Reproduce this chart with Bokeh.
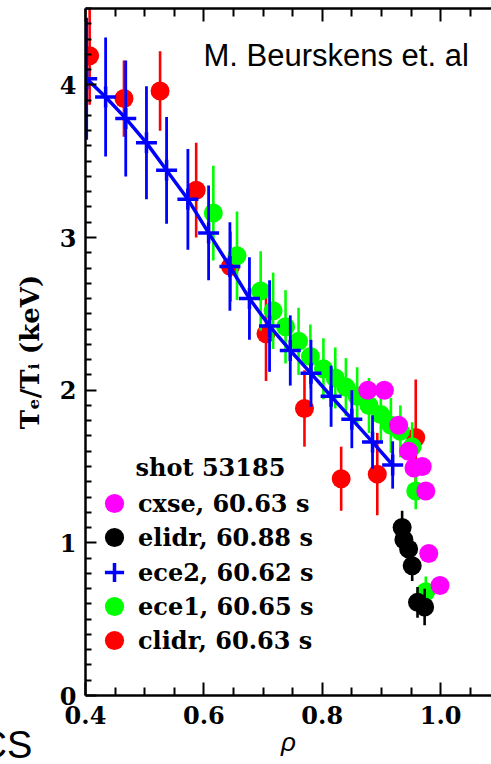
import numpy as np
from bokeh.plotting import figure
from bokeh.models import (ColumnDataSource, FixedTicker, LinearAxis, Legend,
                          LegendItem, Label, Title)
from bokeh.embed import file_html
from bokeh.resources import INLINE

# ---------------- data ----------------
# clidr (red)
clidr_rho = [0.407, 0.465, 0.526, 0.587, 0.645, 0.705, 0.770, 0.832, 0.893, 0.958]
clidr_te = [4.19, 3.91, 3.96, 3.31, 2.81, 2.37, 1.88, 1.42, 1.45, 1.69]
clidr_err = [0.32, 0.25, 0.26, 0.31, 0.23, 0.31, 0.25, 0.21, 0.27, 0.38]

# ece1 (green)
ece1_rho = [0.616, 0.656, 0.696, 0.717, 0.738, 0.760, 0.780, 0.802, 0.822,
            0.840, 0.859, 0.879, 0.899, 0.916, 0.932, 0.952, 0.958, 0.975]
ece1_te = [3.16, 2.88, 2.65, 2.52, 2.415, 2.32, 2.22, 2.14, 2.08,
           2.02, 1.96, 1.90, 1.84, 1.77, 1.73, 1.63, 1.34, 0.68]
ece1_err = [0.31, 0.29, 0.26, 0.25, 0.24, 0.22, 0.21, 0.20, 0.20,
            0.19, 0.19, 0.18, 0.18, 0.18, 0.17, 0.16, 0.12, 0.10]

# ece2 (blue)
ece2_rho = [0.402, 0.434, 0.468, 0.503, 0.537, 0.573, 0.608, 0.644,
            0.677, 0.711, 0.746, 0.781, 0.815, 0.850, 0.885, 0.919]
ece2_te = [4.04, 3.92, 3.78, 3.62, 3.44, 3.25, 3.03, 2.81,
           2.60, 2.42, 2.26, 2.11, 1.96, 1.81, 1.66, 1.51]
ece2_err = [0.40, 0.39, 0.38, 0.37, 0.35, 0.33, 0.31, 0.29,
            0.27, 0.30, 0.23, 0.22, 0.20, 0.19, 0.175, 0.155]

# elidr (black)
elidr_rho = [0.935, 0.938, 0.946, 0.952, 0.961, 0.973]
elidr_te = [1.10, 1.02, 0.96, 0.85, 0.61, 0.58]
elidr_err = [0.11, 0.10, 0.10, 0.10, 0.10, 0.12]

# cxse (magenta)
cxse_rho = [0.877, 0.905, 0.929, 0.946, 0.955, 0.969, 0.975, 0.980, 0.999]
cxse_te = [2.00, 2.00, 1.77, 1.60, 1.49, 1.50, 1.34, 0.93, 0.72]

legend_title = "shot 53185"
legend_order = ["cxse", "elidr", "ece2", "ece1", "clidr"]
legend_labels = {
    "cxse": "cxse, 60.63 s",
    "elidr": "elidr, 60.88 s",
    "ece2": "ece2, 60.62 s",
    "ece1": "ece1, 60.65 s",
    "clidr": "clidr, 60.63 s",
}
credit_text = "M. Beurskens et. al"
corner_text = "CS"

x_ticks = [0.4, 0.6, 0.8, 1.0]
x_tick_labels = ["0.4", "0.6", "0.8", "1.0"]
x_minor = [0.45, 0.5, 0.55, 0.65, 0.7, 0.75, 0.85, 0.9, 0.95, 1.05]
y_ticks = [0, 1, 2, 3, 4]
y_tick_labels = ["0", "1", "2", "3", "4"]
y_minor = [round(0.1 * i, 1) for i in range(46) if i % 10 != 0]

SERIF = "DejaVu Serif"
SANS = "Liberation Sans"

# ---------------- figure ----------------
p = figure(width=491, height=764, x_range=(0.4, 1.086), y_range=(0, 4.5),
           output_backend="svg", toolbar_location=None)
p.min_border_left = 85
p.min_border_right = 0
p.min_border_top = 8
p.min_border_bottom = 69
p.outline_line_color = None
p.background_fill_color = "white"
p.border_fill_color = "white"
p.xgrid.visible = False
p.ygrid.visible = False


def err_source(x, y, e):
    x = np.asarray(x, float)
    y = np.asarray(y, float)
    e = np.asarray(e, float)
    return ColumnDataSource(dict(x=x, y=y, lo=y - e, hi=y + e))


RED, GREEN, BLUE, BLACK, MAG = "#ff0000", "#00ff00", "#0000ff", "#000000", "#ff00ff"
MS = 19

renderers = {}

# clidr
s = err_source(clidr_rho, clidr_te, clidr_err)
p.segment(x0="x", y0="lo", x1="x", y1="hi", source=s, line_color=RED, line_width=2.6)
renderers["clidr"] = p.scatter("x", "y", source=s, marker="circle", size=MS,
                               fill_color=RED, line_color=None)

# ece1
s = err_source(ece1_rho, ece1_te, ece1_err)
p.segment(x0="x", y0="lo", x1="x", y1="hi", source=s, line_color=GREEN, line_width=2.6)
renderers["ece1"] = p.scatter("x", "y", source=s, marker="circle", size=MS,
                              fill_color=GREEN, line_color=None)

# ece2
s = err_source(ece2_rho, ece2_te, ece2_err)
p.segment(x0="x", y0="lo", x1="x", y1="hi", source=s, line_color=BLUE, line_width=2.8)
p.line("x", "y", source=s, line_color=BLUE, line_width=3.5)
renderers["ece2"] = p.scatter("x", "y", source=s, marker="cross", size=21,
                              line_color=BLUE, line_width=3.5)

# elidr
s = err_source(elidr_rho, elidr_te, elidr_err)
p.segment(x0="x", y0="lo", x1="x", y1="hi", source=s, line_color=BLACK, line_width=2.6)
renderers["elidr"] = p.scatter("x", "y", source=s, marker="circle", size=MS,
                               fill_color=BLACK, line_color=None)

# cxse
s = ColumnDataSource(dict(x=cxse_rho, y=cxse_te))
renderers["cxse"] = p.scatter("x", "y", source=s, marker="circle", size=MS,
                              fill_color=MAG, line_color=None)

# ---------------- axes ----------------
xt = FixedTicker(ticks=x_ticks, minor_ticks=x_minor)
yt = FixedTicker(ticks=y_ticks, minor_ticks=y_minor)

xa = p.xaxis[0]
xa.ticker = xt
xa.major_label_overrides = dict(zip(x_ticks, x_tick_labels))
ya = p.yaxis[0]
ya.ticker = yt
ya.major_label_overrides = dict(zip(y_ticks, y_tick_labels))

top = LinearAxis(ticker=FixedTicker(ticks=x_ticks, minor_ticks=x_minor))
top.major_label_overrides = {t: "" for t in x_ticks}
top.major_label_text_font_size = "1px"
top.major_label_standoff = 0
p.add_layout(top, "above")

for ax in (xa, top):
    ax.major_tick_in = 13
    ax.major_tick_out = 0
    ax.minor_tick_in = 8
    ax.minor_tick_out = 0
ya.major_tick_in = 11
ya.major_tick_out = 0
ya.minor_tick_in = 6
ya.minor_tick_out = 0

for ax in (xa, ya, top):
    ax.axis_line_width = 2.5
    ax.axis_line_color = "black"
    ax.major_tick_line_width = 2
    ax.minor_tick_line_width = 2
    ax.major_tick_line_color = "black"
    ax.minor_tick_line_color = "black"

for ax in (xa, ya):
    ax.major_label_text_font = SERIF
    ax.major_label_text_font_style = "bold"
    ax.major_label_text_font_size = "24px"
    ax.major_label_text_color = "black"

xa.major_label_standoff = 10
ya.major_label_standoff = 9

xa.axis_label = "ρ"
xa.axis_label_text_font = SANS
xa.axis_label_text_font_style = "italic"
xa.axis_label_text_font_size = "26px"
xa.axis_label_standoff = 0
xa.axis_label_text_color = "black"

ya.axis_label = "Tₑ/Tᵢ (keV)"
ya.axis_label_text_font = SERIF
ya.axis_label_text_font_style = "bold"
ya.axis_label_text_font_size = "26px"
ya.axis_label_standoff = 12
ya.axis_label_text_color = "black"

# ---------------- legend (one box per entry, stacked) ----------------
LEG_BOTTOM = 31      # px above the frame bottom for the last entry
LEG_PITCH = 34.2     # px between entries
n = len(legend_order)
for i, key in enumerate(legend_order):
    yloc = int(round(LEG_BOTTOM + (n - 1 - i) * LEG_PITCH))
    leg = Legend(items=[LegendItem(label=legend_labels[key],
                                   renderers=[renderers[key]])],
                 location=(5, yloc))
    leg.glyph_width = 48
    leg.glyph_height = 48
    leg.label_standoff = -3
    leg.padding = 0
    leg.margin = 0
    leg.border_line_color = None
    leg.background_fill_alpha = 0
    leg.label_text_font = SERIF
    leg.label_text_font_style = "bold"
    leg.label_text_font_size = "24px"
    leg.label_text_color = "black"
    p.add_layout(leg, "center")

p.add_layout(Label(x=50, y=228, x_units="screen", y_units="screen",
                   text=legend_title, text_font=SERIF, text_font_style="bold",
                   text_font_size="24px", text_baseline="middle",
                   text_color="black"))

p.add_layout(Label(x=118, y=640, x_units="screen", y_units="screen",
                   text=credit_text, text_font=SANS,
                   text_font_size="31px", text_baseline="middle",
                   text_color="black"))

# Partly cut-off caption at the lower-left corner, outside the frame:
# a side-panel title (not clipped), pulled up with a negative standoff so
# that it takes no extra room below the axis.
cs_title = Title(text=corner_text, align="left", vertical_align="top",
                 offset=-106, standoff=-72, text_font=SANS,
                 text_font_style="normal", text_font_size="38px",
                 text_color="black")
p.add_layout(cs_title, "below")

open("out.html", "w").write(file_html(p, INLINE))
